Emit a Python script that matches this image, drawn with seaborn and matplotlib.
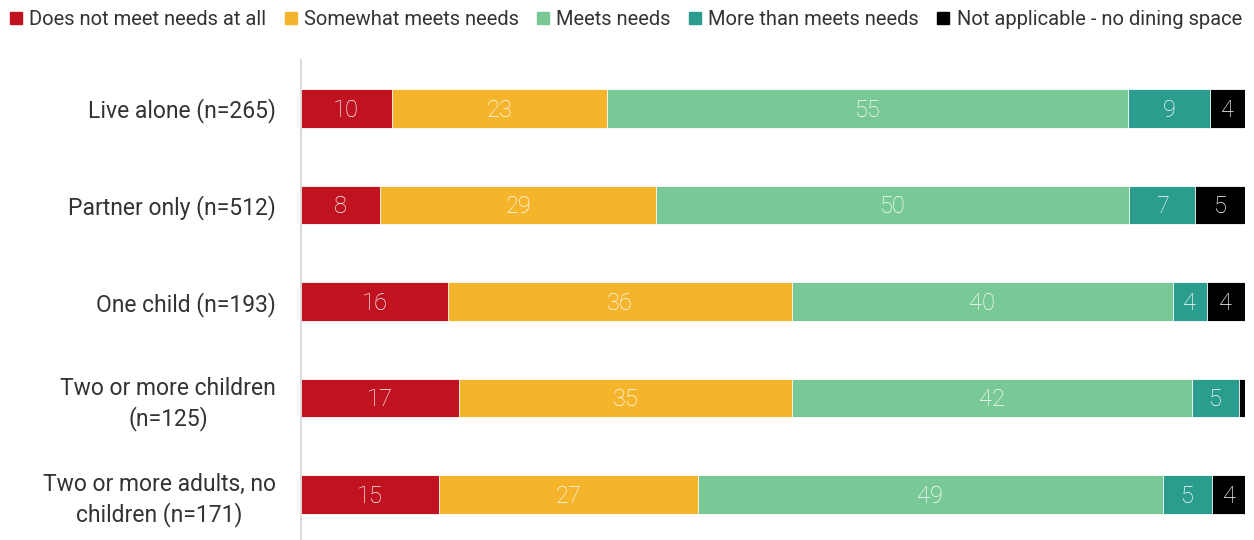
import matplotlib
matplotlib.use("Agg")
import matplotlib.pyplot as plt
import matplotlib.patches as mpatches
import numpy as np
import pandas as pd
import seaborn as sns

groups = ["Live alone (n=265)", "Partner only (n=512)", "One child (n=193)",
          "Two or more children\n(n=125)", "Two or more adults, no\nchildren (n=171)"]
responses = ["Does not meet needs at all", "Somewhat meets needs", "Meets needs",
             "More than meets needs", "Not applicable - no dining space"]

# values (labels are rounded)
not_meet = [9.6, 8.4, 15.6, 16.7, 14.6]
somewhat = [22.8, 29.2, 36.4, 35.3, 27.4]
meets = [55.2, 50.1, 40.3, 42.4, 49.3]
more_than = [8.7, 7.0, 3.6, 4.9, 5.2]
not_applicable = [3.7, 5.3, 4.1, 0.7, 3.6]

colors = ["#C1121F", "#F4B52D", "#78C995", "#2A9D8F", "#000000"]

series = [not_meet, somewhat, meets, more_than, not_applicable]
vals = np.array(series)
cum = np.cumsum(vals, axis=0)

sns.set_style("white")
plt.rcParams['font.family'] = ['Roboto', 'DejaVu Sans']

fig = plt.figure(figsize=(12.54, 5.4), dpi=100)
ax = fig.add_axes([0.24, 0.0, 0.753, 0.889])

# stacked bars: draw cumulative totals from the last series back to the first
for i in range(len(series) - 1, -1, -1):
    df = pd.DataFrame({"group": groups, "total": cum[i]})
    sns.barplot(data=df, x="total", y="group", orient="h", color=colors[i],
                width=0.4, edgecolor="white", linewidth=0.6, saturation=1, ax=ax)

for i in range(len(series)):
    for j in range(len(groups)):
        v = vals[i, j]
        if v < 1:
            continue
        ax.text(cum[i, j] - v / 2, j + 0.02, f"{round(v)}", ha="center", va="center",
                color="white", fontsize=17, fontweight="light")

ax.set_xlim(0, 100)
ax.set_ylim(4.47, -0.5)
ax.set_xlabel("")
ax.set_ylabel("")
ax.set_xticks([])
ax.tick_params(axis="y", length=0, pad=18, labelsize=16.5, labelcolor="#333333")
for lab in ax.get_yticklabels():
    lab.set_multialignment("center")
    lab.set_linespacing(1.3)
for s in ["top", "right", "bottom"]:
    ax.spines[s].set_visible(False)
ax.spines["left"].set_color("#d4d4d4")
ax.spines["left"].set_linewidth(1.2)

handles = [mpatches.Patch(color=c, label=r) for c, r in zip(colors, responses)]
fig.legend(handles=handles, loc="upper center", bbox_to_anchor=(0.499, 1.015), ncol=5,
           frameon=False, fontsize=14.5, handlelength=0.6, handleheight=0.6,
           handletextpad=0.35, columnspacing=0.92, labelcolor="#333333")

fig.savefig("out.png", dpi=100)
